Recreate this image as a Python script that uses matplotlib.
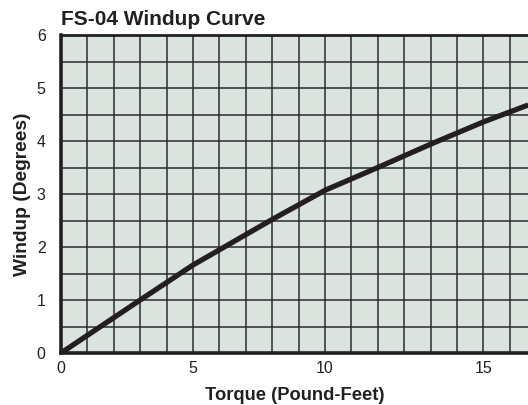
import numpy as np
import matplotlib
matplotlib.use("Agg")
import matplotlib.pyplot as plt

# windup measured along the torque grid
torque = [0, 3, 5, 8, 10, 12, 14, 16, 17.7]
windup = [0, 1.0, 1.66, 2.52, 3.07, 3.5, 3.94, 4.36, 4.68]

x_tick_pos = [0, 5, 10, 16]
x_tick_labels = ["0", "5", "10", "15"]
y_ticks = [0, 1, 2, 3, 4, 5, 6]

plt.rcParams['font.family'] = ['Liberation Sans', 'DejaVu Sans']
ink = "#231f20"

fig = plt.figure(figsize=(5.28, 4.05), dpi=100)
ax = fig.add_axes([61 / 528, 52 / 405, 467 / 528, 318 / 405])
ax.set_facecolor("#dbe3df")

ax.set_xlim(0, 467 / 26.4)
ax.set_ylim(0, 6)

# square grid, one cell per torque unit and half a degree
for gx in np.arange(1, 18):
    ax.axvline(gx, color="#2b2b2b", lw=1.1, zorder=1)
for gy in np.arange(0.5, 6, 0.5):
    ax.axhline(gy, color="#2b2b2b", lw=1.1, zorder=1)

ax.plot(torque, windup, color=ink, lw=3.8, solid_capstyle="butt", zorder=3)

ax.set_xticks(x_tick_pos)
ax.set_xticklabels(x_tick_labels, fontsize=11.5, color=ink)
ax.set_yticks(y_ticks)
ax.set_yticklabels([str(v) for v in y_ticks], fontsize=11.5, color=ink)
ax.tick_params(length=0)
ax.tick_params(axis="x", pad=6)
ax.tick_params(axis="y", pad=11)

for side in ("left", "bottom"):
    ax.spines[side].set_linewidth(2.6)
    ax.spines[side].set_color(ink)
ax.spines["top"].set_linewidth(2.0)
ax.spines["top"].set_color(ink)
ax.spines["right"].set_visible(False)

ax.set_xlabel("Torque (Pound-Feet)", fontsize=13.2, fontweight="bold", color=ink, labelpad=8)
ax.set_ylabel("Windup (Degrees)", fontsize=13.8, fontweight="bold", color=ink, labelpad=4)
ax.set_title("FS-04 Windup Curve", loc="left", fontsize=15, fontweight="bold", color=ink, pad=7)

fig.savefig("out.png", dpi=100)
